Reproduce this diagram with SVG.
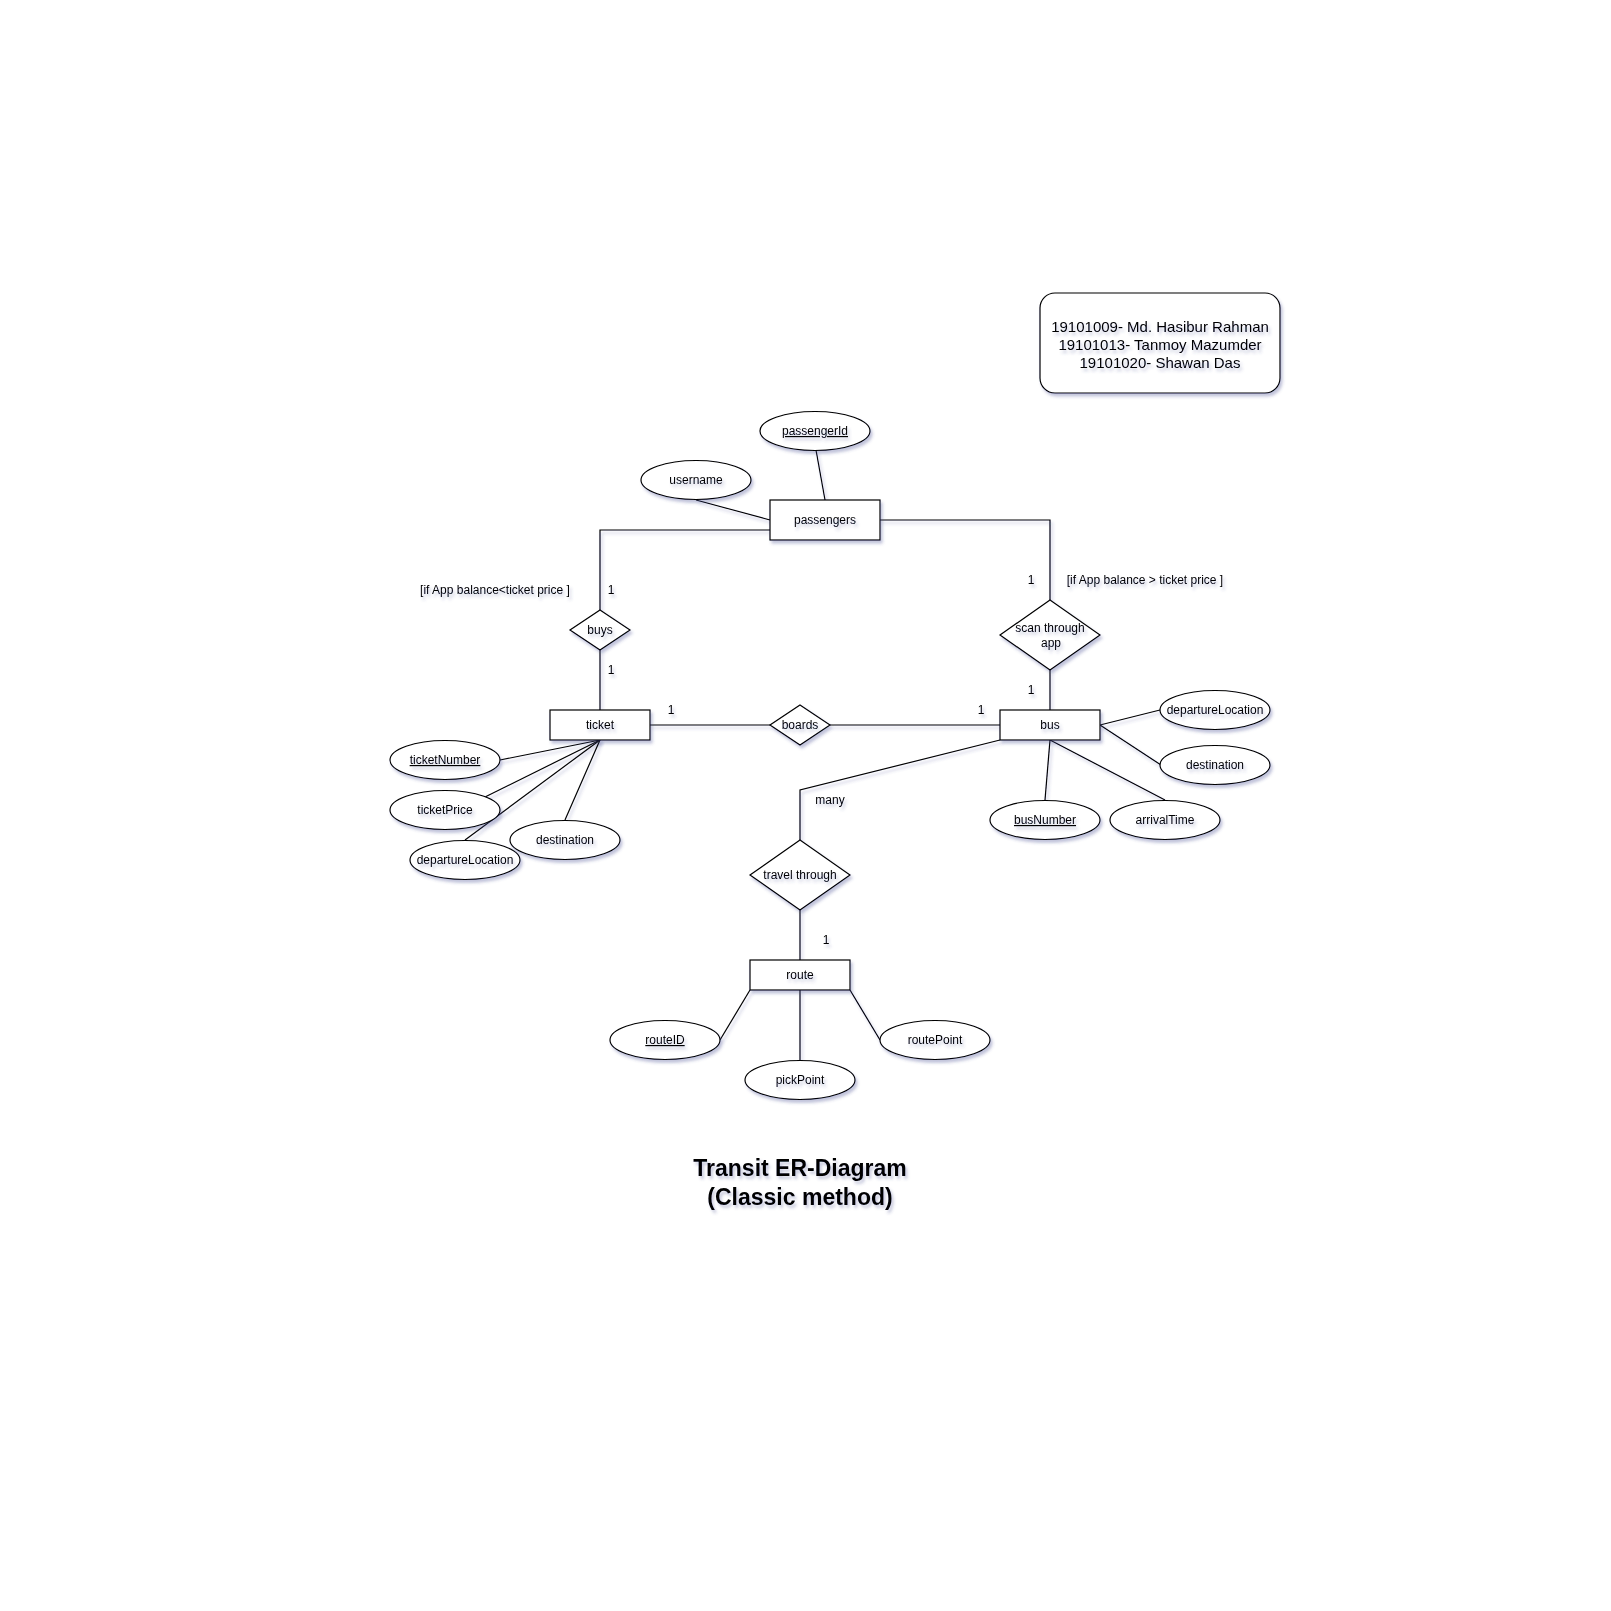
<svg xmlns="http://www.w3.org/2000/svg" width="1611" height="1611" viewBox="0 0 1611 1611">
  <style>
    .bg { fill: #ffffff; }
    .shape { fill: #ffffff; stroke: #000000; stroke-width: 1.2; filter: url(#shadow); }
    .edge { fill: none; stroke: #000000; stroke-width: 1.2; filter: url(#shadow); }
    .lbl { font-family: "Liberation Sans", Arial, Helvetica, sans-serif; font-size: 12px; fill: #000000; text-anchor: middle; filter: url(#tshadow); }
    .key { text-decoration: underline; }
    .members { font-family: "Liberation Sans", Arial, Helvetica, sans-serif; font-size: 15px; fill: #000000; text-anchor: middle; filter: url(#tshadow); }
    .title { font-family: "Liberation Sans", Arial, Helvetica, sans-serif; font-size: 23px; font-weight: bold; fill: #000000; text-anchor: middle; filter: url(#tshadow); }
  </style>
  <defs>
    <filter id="shadow" filterUnits="userSpaceOnUse" x="0" y="0" width="1611" height="1611">
      <feDropShadow dx="2" dy="3" stdDeviation="1.6" flood-color="#3f4a8c" flood-opacity="0.32"/>
    </filter>
    <filter id="tshadow" filterUnits="userSpaceOnUse" x="0" y="0" width="1611" height="1611">
      <feDropShadow dx="2" dy="3" stdDeviation="1.6" flood-color="#3f4a8c" flood-opacity="0.3"/>
    </filter>
  </defs>

  <rect class="bg" x="0" y="0" width="1611" height="1611"/>

  <!-- relationship lines and attribute links -->
  <g id="connectors">
    <line class="edge" x1="816" y1="450" x2="825" y2="500"/>
    <line class="edge" x1="696" y1="500" x2="770" y2="520"/>
    <polyline class="edge" points="770,530 600,530 600,610"/>
    <line class="edge" x1="600" y1="650" x2="600" y2="710"/>
    <polyline class="edge" points="880,520 1050,520 1050,600"/>
    <line class="edge" x1="1050" y1="670" x2="1050" y2="710"/>
    <line class="edge" x1="650" y1="725" x2="770" y2="725"/>
    <line class="edge" x1="830" y1="725" x2="1000" y2="725"/>
    <polyline class="edge" points="1000,740 800,790 800,840"/>
    <line class="edge" x1="800" y1="910" x2="800" y2="960"/>
    <!-- ticket attributes -->
    <line class="edge" x1="600" y1="740" x2="500" y2="760"/>
    <line class="edge" x1="600" y1="740" x2="485" y2="797"/>
    <line class="edge" x1="600" y1="740" x2="465" y2="840"/>
    <line class="edge" x1="600" y1="740" x2="565" y2="820"/>
    <!-- bus attributes -->
    <line class="edge" x1="1100" y1="725" x2="1160" y2="710"/>
    <line class="edge" x1="1100" y1="725" x2="1161" y2="765"/>
    <line class="edge" x1="1050" y1="740" x2="1045" y2="800"/>
    <line class="edge" x1="1050" y1="740" x2="1165" y2="800"/>
    <!-- route attributes -->
    <line class="edge" x1="750" y1="990" x2="720" y2="1040"/>
    <line class="edge" x1="800" y1="990" x2="800" y2="1060"/>
    <line class="edge" x1="850" y1="990" x2="880" y2="1040"/>
  </g>

  <!-- cardinalities and conditions -->
  <g id="edge-labels">
    <text class="lbl" x="495" y="594">[if App balance&lt;ticket price ]</text>
    <text class="lbl" x="611" y="594">1</text>
    <text class="lbl" x="611" y="674">1</text>
    <text class="lbl" x="1031" y="584">1</text>
    <text class="lbl" x="1145" y="584">[if App balance &gt; ticket price ]</text>
    <text class="lbl" x="1031" y="694">1</text>
    <text class="lbl" x="671" y="714">1</text>
    <text class="lbl" x="981" y="714">1</text>
    <text class="lbl" x="830" y="804">many</text>
    <text class="lbl" x="826" y="944">1</text>
  </g>

  <!-- entities -->
  <g id="passengers">
    <rect class="shape" x="770" y="500" width="110" height="40"/>
    <text class="lbl" x="825" y="524">passengers</text>
  </g>
  <g id="ticket">
    <rect class="shape" x="550" y="710" width="100" height="30"/>
    <text class="lbl" x="600" y="729">ticket</text>
  </g>
  <g id="bus">
    <rect class="shape" x="1000" y="710" width="100" height="30"/>
    <text class="lbl" x="1050" y="729">bus</text>
  </g>
  <g id="route">
    <rect class="shape" x="750" y="960" width="100" height="30"/>
    <text class="lbl" x="800" y="979">route</text>
  </g>

  <!-- relationships -->
  <g id="buys">
    <polygon class="shape" points="600,610 630,630 600,650 570,630"/>
    <text class="lbl" x="600" y="634">buys</text>
  </g>
  <g id="scan-through-app">
    <polygon class="shape" points="1050,600 1100,635 1050,670 1000,635"/>
    <text class="lbl" x="1050" y="632">scan through</text>
    <text class="lbl" x="1051" y="647">app</text>
  </g>
  <g id="boards">
    <polygon class="shape" points="800,705 830,725 800,745 770,725"/>
    <text class="lbl" x="800" y="729">boards</text>
  </g>
  <g id="travel-through">
    <polygon class="shape" points="800,840 850,875 800,910 750,875"/>
    <text class="lbl" x="800" y="879">travel through</text>
  </g>

  <!-- attributes -->
  <g id="attr-passengerId">
    <ellipse class="shape" cx="815" cy="431" rx="55" ry="19.5"/>
    <text class="lbl key" x="815" y="435">passengerId</text>
  </g>
  <g id="attr-username">
    <ellipse class="shape" cx="696" cy="480" rx="55" ry="19.5"/>
    <text class="lbl" x="696" y="484">username</text>
  </g>
  <g id="attr-ticketNumber">
    <ellipse class="shape" cx="445" cy="760" rx="55" ry="19.5"/>
    <text class="lbl key" x="445" y="764">ticketNumber</text>
  </g>
  <g id="attr-ticketPrice">
    <ellipse class="shape" cx="445" cy="810" rx="55" ry="19.5"/>
    <text class="lbl" x="445" y="814">ticketPrice</text>
  </g>
  <g id="attr-ticket-departureLocation">
    <ellipse class="shape" cx="465" cy="860" rx="55" ry="19.5"/>
    <text class="lbl" x="465" y="864">departureLocation</text>
  </g>
  <g id="attr-ticket-destination">
    <ellipse class="shape" cx="565" cy="840" rx="55" ry="19.5"/>
    <text class="lbl" x="565" y="844">destination</text>
  </g>
  <g id="attr-bus-departureLocation">
    <ellipse class="shape" cx="1215" cy="710" rx="55" ry="19.5"/>
    <text class="lbl" x="1215" y="714">departureLocation</text>
  </g>
  <g id="attr-bus-destination">
    <ellipse class="shape" cx="1215" cy="765" rx="55" ry="19.5"/>
    <text class="lbl" x="1215" y="769">destination</text>
  </g>
  <g id="attr-busNumber">
    <ellipse class="shape" cx="1045" cy="820" rx="55" ry="19.5"/>
    <text class="lbl key" x="1045" y="824">busNumber</text>
  </g>
  <g id="attr-arrivalTime">
    <ellipse class="shape" cx="1165" cy="820" rx="55" ry="19.5"/>
    <text class="lbl" x="1165" y="824">arrivalTime</text>
  </g>
  <g id="attr-routeID">
    <ellipse class="shape" cx="665" cy="1040" rx="55" ry="19.5"/>
    <text class="lbl key" x="665" y="1044">routeID</text>
  </g>
  <g id="attr-pickPoint">
    <ellipse class="shape" cx="800" cy="1080" rx="55" ry="19.5"/>
    <text class="lbl" x="800" y="1084">pickPoint</text>
  </g>
  <g id="attr-routePoint">
    <ellipse class="shape" cx="935" cy="1040" rx="55" ry="19.5"/>
    <text class="lbl" x="935" y="1044">routePoint</text>
  </g>

  <!-- team members -->
  <g id="members">
    <rect class="shape" x="1040" y="293" width="240" height="100" rx="15" ry="15"/>
    <text class="members" x="1160" y="332">19101009- Md. Hasibur Rahman</text>
    <text class="members" x="1160" y="350">19101013- Tanmoy Mazumder</text>
    <text class="members" x="1160" y="368">19101020- Shawan Das</text>
  </g>

  <!-- title -->
  <g id="title">
    <text class="title" x="800" y="1176">Transit ER-Diagram</text>
    <text class="title" x="800" y="1205">(Classic method)</text>
  </g>
</svg>
